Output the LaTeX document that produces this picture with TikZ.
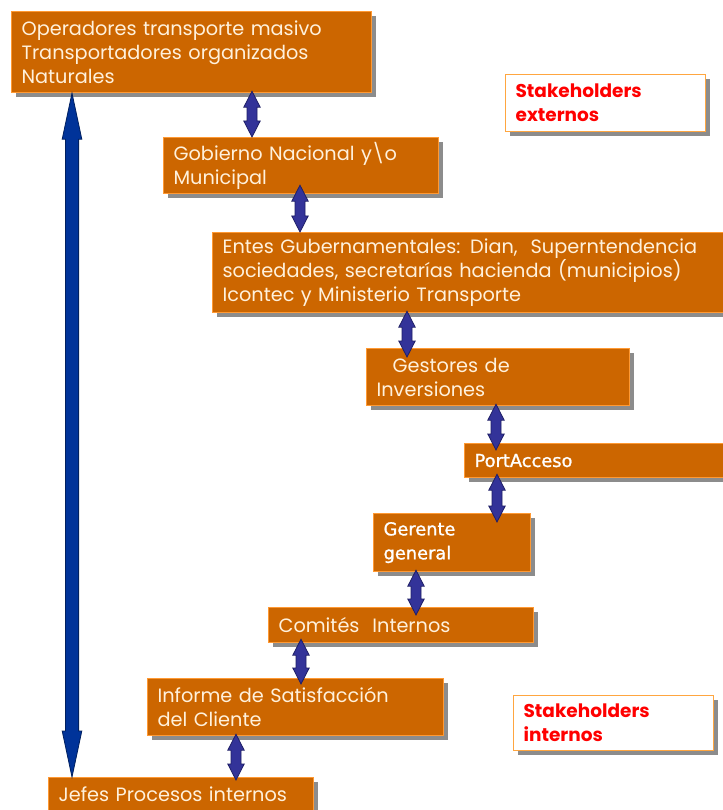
\documentclass[tikz,border=0pt]{standalone}
\usepackage{fontspec}
\setmainfont{Poppins}
\newfontfamily\tahomalike[FakeBold=1.2]{DejaVu Sans}
\usetikzlibrary{calc,shadows}
\definecolor{boxfill}{HTML}{CC6600}
\definecolor{boxline}{HTML}{FF9933}
\definecolor{boxtext}{HTML}{FFF1DC}
\definecolor{shadowgray}{HTML}{8C8C8C}
\definecolor{arrowfill}{HTML}{333399}
\definecolor{arrowline}{HTML}{1F1F66}
\definecolor{bigfill}{HTML}{003399}
\definecolor{bigline}{HTML}{00205F}
\definecolor{labelline}{HTML}{FFA640}
\definecolor{labeltext}{HTML}{FF0000}
\tikzset{
  bx/.style={anchor=north west, fill=boxfill, draw=boxline, line width=1.2pt,
    text=boxtext, align=left, inner xsep=10pt, inner ysep=0pt,
    font=\fontsize{19.3}{24}\selectfont,
    drop shadow={shadow xshift=4pt, shadow yshift=-4pt, fill=shadowgray, opacity=1}},
  bxalt/.style={bx, text=white, font=\tahomalike\fontsize{17.8}{24}\selectfont},
  lbl/.style={anchor=north west, fill=white, draw=labelline, line width=1.2pt,
    text=labeltext, align=left, inner xsep=10pt, inner ysep=0pt,
    font=\bfseries\fontsize{18.5}{24}\selectfont,
    drop shadow={shadow xshift=4pt, shadow yshift=-4pt, fill=shadowgray, opacity=1}},
  % #1 head half width, #2 shaft half width, #3 head length,
  % #4 overlap into start node, #5 overlap into end node
  blockarrow/.style n args={5}{to path={let \p1=(\tikztostart), \p2=(\tikztotarget) in
    (\x1,{\y1+#4}) -- ({\x1+#1},{\y1+#4-#3}) -- ({\x1+#2},{\y1+#4-#3}) -- ({\x1+#2},{\y2-#5+#3})
    -- ({\x1+#1},{\y2-#5+#3}) -- (\x1,{\y2-#5}) -- ({\x1-#1},{\y2-#5+#3}) -- ({\x1-#2},{\y2-#5+#3})
    -- ({\x1-#2},{\y1+#4-#3}) -- ({\x1-#1},{\y1+#4-#3}) -- cycle}},
  smallarrow/.style 2 args={blockarrow={8.2pt}{5pt}{16pt}{#1}{#2}, fill=arrowfill, draw=arrowline, line width=0.8pt, line join=miter},
  bigarrow/.style={blockarrow={9.8pt}{6.6pt}{46pt}{0pt}{0pt}, fill=bigfill, draw=bigline, line width=0.8pt, line join=miter},
}
\begin{document}
\begin{tikzpicture}[x=1pt,y=-1pt]
\useasboundingbox[fill=white] (0,0) rectangle (722,810);

% boxes
\node[bx, minimum width=360pt, minimum height=81pt, text width=340pt] (op) at (11,11)
  {Operadores transporte masivo\\Transportadores organizados\\Naturales};
\node[bx, minimum width=275pt, minimum height=56pt, text width=255pt] (gob) at (163,137)
  {Gobierno Nacional y\textbackslash o\\Municipal};
\node[bx, minimum width=520pt, minimum height=80pt, text width=500pt] (entes) at (212,232)
  {Entes Gubernamentales: Dian,\ \ Superntendencia\\sociedades, secretarías hacienda (municipios)\\Icontec y Ministerio Transporte};
\node[bx, minimum width=263pt, minimum height=57pt, text width=243pt] (gest) at (366,348)
  {\hspace*{16pt}Gestores de\\Inversiones};
\node[bxalt, minimum width=270pt, minimum height=34pt, text width=250pt] (port) at (464,443)
  {PortAcceso};
\node[bxalt, minimum width=157pt, minimum height=58pt, text width=137pt] (ger) at (373,513)
  {Gerente\\general};
\node[bx, minimum width=265pt, minimum height=35pt, text width=245pt] (com) at (268,607)
  {Comités\ \ Internos};
\node[bx, minimum width=296pt, minimum height=57pt, text width=276pt] (inf) at (147,678)
  {Informe de Satisfacción\\del Cliente};
\node[bx, minimum width=265pt, minimum height=34pt, text width=245pt] (jef) at (48,777)
  {Jefes Procesos internos};

% labels
\node[lbl, minimum width=200pt, minimum height=57pt, text width=180pt] (ext) at (505,74)
  {Stakeholders\\externos};
\node[lbl, minimum width=200pt, minimum height=55pt, text width=180pt] (int) at (513,695)
  {Stakeholders\\internos};

% arrow x positions
\coordinate (x0) at (72,0);
\coordinate (x1) at (252,0);
\coordinate (x2) at (300,0);
\coordinate (x3) at (407,0);
\coordinate (x4) at (496,0);
\coordinate (x5) at (497,0);
\coordinate (x6) at (416,0);
\coordinate (x7) at (301,0);
\coordinate (x8) at (236,0);

\draw[bigarrow] (op.south -| x0) to (jef.north -| x0);
\draw[smallarrow={2pt}{0pt}] (op.south -| x1) to (gob.north -| x1);
\draw[smallarrow={9pt}{0pt}] (gob.south -| x2) to (entes.north -| x2);
\draw[smallarrow={2pt}{9pt}] (entes.south -| x3) to (gest.north -| x3);
\draw[smallarrow={2pt}{7pt}] (gest.south -| x4) to (port.north -| x4);
\draw[smallarrow={4pt}{9pt}] (port.south -| x5) to (ger.north -| x5);
\draw[smallarrow={2pt}{8pt}] (ger.south -| x6) to (com.north -| x6);
\draw[smallarrow={4pt}{6pt}] (com.south -| x7) to (inf.north -| x7);
\draw[smallarrow={2pt}{3pt}] (inf.south -| x8) to (jef.north -| x8);
\end{tikzpicture}
\end{document}
